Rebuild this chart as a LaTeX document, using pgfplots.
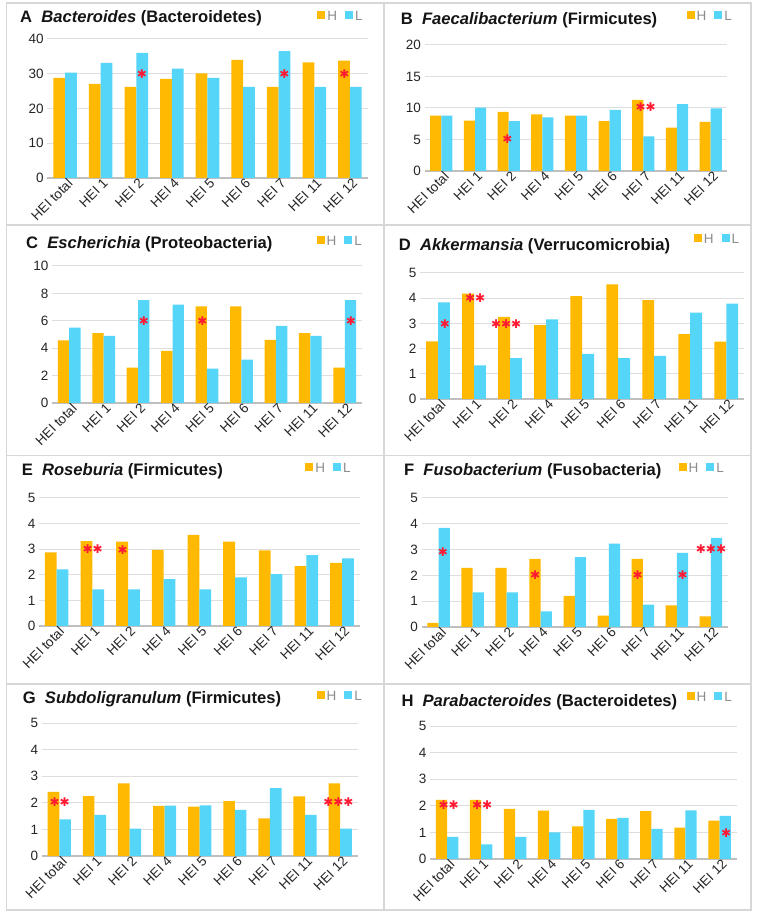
\documentclass[border=0pt]{standalone}
\usepackage{pgfplots}
\pgfplotsset{compat=1.18}
\usepackage{fontspec}
\setmainfont{Liberation Sans}
\newfontfamily\djv{DejaVu Sans}
\definecolor{hcol}{RGB}{255,185,0}
\definecolor{lcol}{RGB}{85,214,248}
\definecolor{stcol}{RGB}{255,25,50}
\definecolor{framecol}{RGB}{215,215,215}
\newcommand{\tfont}{\fontsize{16.6}{18}\selectfont\bfseries\color{black!92}}
\newcommand{\st}[3]{\node[font=\djv\fontsize{12}{12}\selectfont, text=stcol, inner sep=0pt] at (axis cs:#1,#2) {#3};}
\pgfplotsset{
 panel/.style={
  scale only axis, anchor=south west,
  ybar=0pt, bar width=0.33,
  ymin=0, xmin=-0.5, xmax=8.5,
  xtick={0,...,8},
  xticklabels={HEI total,HEI 1,HEI 2,HEI 4,HEI 5,HEI 6,HEI 7,HEI 11,HEI 12},
  x tick label style={xshift=1.5pt, yshift=2pt, rotate=45, anchor=north east, font=\fontsize{13.5}{14}\selectfont, text=black!85, inner sep=1pt},
  y tick label style={font=\fontsize{13.5}{14}\selectfont, text=black!85},
  /pgf/number format/assume math mode=true,
  axis lines*=left, separate axis lines,
  y axis line style={draw=none},
  x axis line style={draw=black!25, line width=1.3pt},
  major tick length=0pt, tick style={draw=none},
  ymajorgrids, grid style={draw=black!13, line width=1pt},
  legend columns=2,
  legend image code/.code={\fill[##1] (0pt,-2pt) rectangle (8pt,6pt);},
  legend style={draw=none, fill=none, at={(1,1)}, anchor=east, inner sep=0pt,
    font=\fontsize{13.5}{14}\selectfont, text=black!45,
    /tikz/every even column/.append style={column sep=6pt}},
 },
 hbar/.style={fill=hcol, draw=none, bar shift=-0.165},
 lbar/.style={fill=lcol, draw=none, bar shift=0.165},
}
\begin{document}
\begin{tikzpicture}
\useasboundingbox (0,0) rectangle (756pt,913pt);
\fill[white] (0,0) rectangle (756pt,913pt);
% panel frames
\draw[framecol, line width=1.3pt] (6.5pt,3pt) rectangle (751pt,910pt);
\draw[framecol, line width=1.3pt] (384pt,3pt) -- (384pt,910pt);
\draw[framecol, line width=1.3pt] (6.5pt,688pt) -- (751pt,688pt);
\draw[framecol, line width=1.3pt] (6.5pt,457.5pt) -- (751pt,457.5pt);
\draw[framecol, line width=1.3pt] (6.5pt,229pt) -- (751pt,229pt);
% titles
\node[anchor=base west, font=\tfont, inner sep=0pt] at (20pt,890.3pt) {A\hspace{0.55em}\textit{Bacteroides} (Bacteroidetes)};
\node[anchor=base west, font=\tfont, inner sep=0pt] at (400.7pt,888pt) {B\hspace{0.55em}\textit{Faecalibacterium} (Firmicutes)};
\node[anchor=base west, font=\tfont, inner sep=0pt] at (26pt,664.7pt) {C\hspace{0.55em}\textit{Escherichia} (Proteobacteria)};
\node[anchor=base west, font=\tfont, inner sep=0pt] at (398.7pt,662pt) {D\hspace{0.55em}\textit{Akkermansia} (Verrucomicrobia)};
\node[anchor=base west, font=\tfont, inner sep=0pt] at (21.7pt,437.3pt) {E\hspace{0.55em}\textit{Roseburia} (Firmicutes)};
\node[anchor=base west, font=\tfont, inner sep=0pt] at (404pt,437pt) {F\hspace{0.55em}\textit{Fusobacterium} (Fusobacteria)};
\node[anchor=base west, font=\tfont, inner sep=0pt] at (22.7pt,209.3pt) {G\hspace{0.55em}\textit{Subdoligranulum} (Firmicutes)};
\node[anchor=base west, font=\tfont, inner sep=0pt] at (401.3pt,206.7pt) {H\hspace{0.55em}\textit{Parabacteroides} (Bacteroidetes)};

% A
\begin{axis}[panel, at={(47.2pt,735pt)}, width=320.6pt, height=139pt, ymax=40, ytick={0,10,20,30,40}, legend style={xshift=-3pt, yshift=22pt}]
\addplot[hbar] coordinates {(0,28.8) (1,27.1) (2,26.2) (3,28.5) (4,30.1) (5,34.0) (6,26.2) (7,33.3) (8,33.8)};
\addplot[lbar] coordinates {(0,30.3) (1,33.1) (2,36.0) (3,31.5) (4,28.8) (5,26.2) (6,36.5) (7,26.2) (8,26.2)};
\legend{H,L}
\st{2.16}{30}{✱}
\st{6.16}{30}{✱}
\st{7.84}{30}{✱}
\end{axis}

% B
\begin{axis}[panel, at={(424.5pt,742pt)}, width=303pt, height=126pt, ymax=20, ytick={0,5,10,15,20}, legend style={xshift=6.5pt, yshift=28pt}]
\addplot[hbar] coordinates {(0,8.8) (1,8.0) (2,9.4) (3,9.0) (4,8.8) (5,7.9) (6,11.3) (7,6.9) (8,7.8)};
\addplot[lbar] coordinates {(0,8.8) (1,10.05) (2,7.9) (3,8.5) (4,8.8) (5,9.7) (6,5.5) (7,10.6) (8,9.95)};
\legend{H,L}
\st{1.96}{5.1}{✱}
\st{6.07}{10.1}{✱✱}
\end{axis}

% C
\begin{axis}[panel, at={(52pt,510pt)}, width=310pt, height=137pt, ymax=10, ytick={0,2,4,6,8,10}, legend style={xshift=2pt, yshift=24pt}]
\addplot[hbar] coordinates {(0,4.57) (1,5.1) (2,2.58) (3,3.8) (4,7.05) (5,7.05) (6,4.6) (7,5.1) (8,2.58)};
\addplot[lbar] coordinates {(0,5.5) (1,4.9) (2,7.5) (3,7.18) (4,2.5) (5,3.16) (6,5.62) (7,4.9) (8,7.5)};
\legend{H,L}
\st{2.17}{6}{✱}
\st{3.87}{6}{✱}
\st{8.18}{6}{✱}
\end{axis}

% D
\begin{axis}[panel, at={(420pt,514pt)}, width=324.3pt, height=126pt, ymax=5, ytick={0,1,2,3,4,5}, legend style={xshift=-3pt, yshift=33pt}]
\addplot[hbar] coordinates {(0,2.29) (1,4.18) (2,3.26) (3,2.93) (4,4.08) (5,4.55) (6,3.92) (7,2.57) (8,2.28)};
\addplot[lbar] coordinates {(0,3.83) (1,1.33) (2,1.62) (3,3.16) (4,1.79) (5,1.62) (6,1.71) (7,3.43) (8,3.78)};
\legend{H,L}
\st{0.19}{2.97}{✱}
\st{1.03}{4.02}{✱✱}
\st{1.89}{2.97}{✱✱✱}
\end{axis}

% E
\begin{axis}[panel, at={(38.85pt,287pt)}, width=321pt, height=128pt, ymax=5, ytick={0,1,2,3,4,5}, legend style={xshift=-7pt, yshift=29pt}]
\addplot[hbar] coordinates {(0,2.88) (1,3.32) (2,3.3) (3,2.97) (4,3.56) (5,3.3) (6,2.95) (7,2.34) (8,2.47)};
\addplot[lbar] coordinates {(0,2.21) (1,1.43) (2,1.43) (3,1.83) (4,1.43) (5,1.9) (6,2.03) (7,2.77) (8,2.64)};
\legend{H,L}
\st{1.01}{3.0}{✱✱}
\st{1.85}{2.95}{✱}
\end{axis}

% F
\begin{axis}[panel, at={(421.5pt,286pt)}, width=306.5pt, height=129pt, ymax=5, ytick={0,1,2,3,4,5}, legend style={xshift=-2pt, yshift=29pt}]
\addplot[hbar] coordinates {(0,0.16) (1,2.29) (2,2.29) (3,2.64) (4,1.21) (5,0.44) (6,2.64) (7,0.84) (8,0.41)};
\addplot[lbar] coordinates {(0,3.84) (1,1.34) (2,1.34) (3,0.61) (4,2.71) (5,3.23) (6,0.87) (7,2.87) (8,3.45)};
\legend{H,L}
\st{0.13}{2.9}{✱}
\st{2.84}{2.0}{✱}
\st{5.85}{2.0}{✱}
\st{7.17}{2.0}{✱}
\st{8.0}{3.02}{✱✱✱}
\end{axis}

% G
\begin{axis}[panel, at={(41.75pt,57pt)}, width=316pt, height=133pt, ymax=5, ytick={0,1,2,3,4,5}, legend style={xshift=6.4pt, yshift=26pt}]
\addplot[hbar] coordinates {(0,2.41) (1,2.25) (2,2.73) (3,1.88) (4,1.86) (5,2.06) (6,1.41) (7,2.24) (8,2.73)};
\addplot[lbar] coordinates {(0,1.38) (1,1.55) (2,1.03) (3,1.89) (4,1.9) (5,1.73) (6,2.55) (7,1.55) (8,1.03)};
\legend{H,L}
\st{0.01}{2.02}{✱✱}
\st{7.95}{2.02}{✱✱✱}
\end{axis}

% H
\begin{axis}[panel, at={(430pt,54pt)}, width=306.6pt, height=133pt, ymax=5, ytick={0,1,2,3,4,5}, legend style={xshift=-2.6pt, yshift=28pt}]
\addplot[hbar] coordinates {(0,2.22) (1,2.22) (2,1.88) (3,1.82) (4,1.23) (5,1.51) (6,1.8) (7,1.18) (8,1.44)};
\addplot[lbar] coordinates {(0,0.83) (1,0.55) (2,0.83) (3,1.0) (4,1.85) (5,1.55) (6,1.13) (7,1.83) (8,1.62)};
\legend{H,L}
\st{0.05}{2.02}{✱✱}
\st{1.03}{2.02}{✱✱}
\st{8.19}{0.98}{✱}
\end{axis}
\end{tikzpicture}
\end{document}
